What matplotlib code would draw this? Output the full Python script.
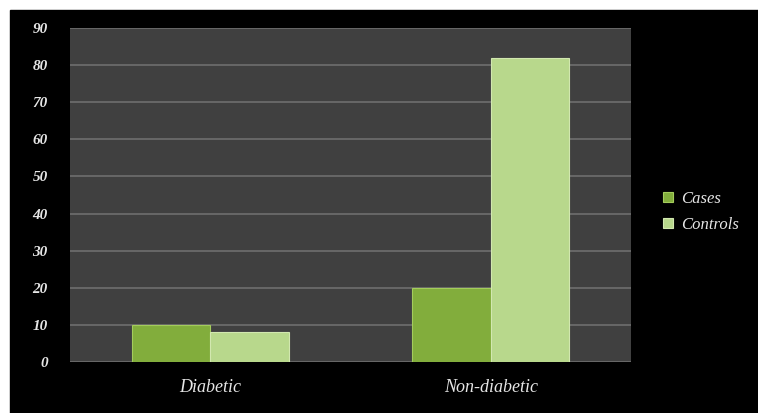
import numpy as np
import matplotlib.pyplot as plt
from matplotlib.patches import Rectangle

# data
categories = ['Diabetic', 'Non-diabetic']
series_names = ['Cases', 'Controls']
cases = [10, 20]
controls = [8, 82]
yticks = list(range(0, 100, 10))

fig = plt.figure(figsize=(7.58, 4.13), dpi=100)
fig.patch.set_facecolor('white')
# black slide background with a thin white border on the top/left
fig.patches.append(Rectangle((10 / 758, 0), 1, 1 - 10 / 413,
                             transform=fig.transFigure, color='black', zorder=-1))

ax = fig.add_axes([70 / 758, 1 - 362 / 413, 561 / 758, 334 / 413])
ax.set_facecolor('#404040')

x = np.arange(len(categories))
w = 0.28
font = dict(family='Liberation Serif', style='italic', color='#e6e6e6')

ax.bar(x - w / 2, cases, w, color='#82ad3c', edgecolor='#a4cc5c',
       linewidth=0.8, label=series_names[0], zorder=3)
ax.bar(x + w / 2, controls, w, color='#b8d88c', edgecolor='#d2e8b0',
       linewidth=0.8, label=series_names[1], zorder=3)

ax.set_xlim(-0.5, 1.5)
ax.set_ylim(0, 90)
ax.set_yticks(yticks)
ax.set_yticklabels([str(t) for t in yticks], fontsize=11, fontweight='bold', **font)
ax.set_xticks(x)
ax.set_xticklabels(categories, fontsize=13, **font)
ax.tick_params(axis='y', length=0, pad=16)
ax.tick_params(axis='x', length=0, pad=12)
ax.grid(axis='y', color='#6e6e6e', linewidth=1.2, zorder=0)
for s in ax.spines.values():
    s.set_visible(False)

leg = ax.legend(loc='center left', bbox_to_anchor=(1.03, 0.45), frameon=False,
                prop=dict(family='Liberation Serif', style='italic', size=12),
                handlelength=0.6, handleheight=0.6, handletextpad=0.5,
                labelspacing=0.6)
for t in leg.get_texts():
    t.set_color('#e6e6e6')

fig.savefig('out.png', dpi=100, facecolor=fig.get_facecolor())
